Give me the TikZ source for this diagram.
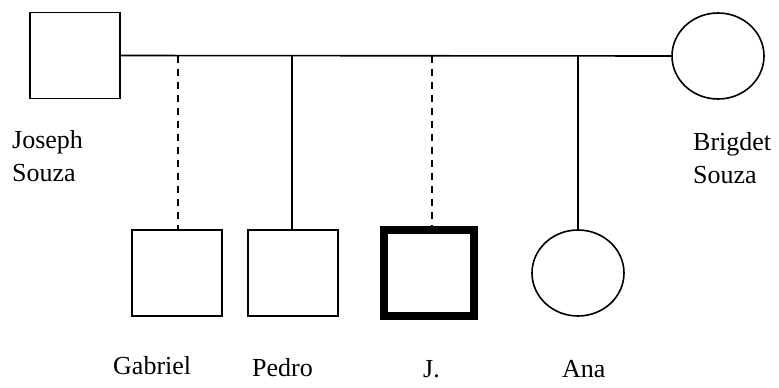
\documentclass[tikz,border=0pt]{standalone}
\usepackage{fontspec}
\setmainfont{Liberation Serif}
\usetikzlibrary{shapes.geometric}
\begin{document}
\begin{tikzpicture}[x=1pt,y=-1pt,
  male/.style={draw,line width=1.6pt,rectangle,minimum width=90pt,minimum height=86pt,inner sep=0pt},
  female/.style={draw,line width=1.6pt,ellipse,minimum width=92pt,minimum height=86pt,inner sep=0pt},
  proband/.style={male,line width=7.5pt},
  lbl/.style={anchor=base west,inner sep=0pt,align=left,font=\fontsize{26}{33}\selectfont},
  link/.style={line width=1.6pt},
  dlink/.style={line width=1.6pt,dash pattern=on 7pt off 6pt}]
\useasboundingbox (0,0) rectangle (779,388);
\node[male] (jos) at (75,55.5) {};
\node[female] (brig) at (718,56) {};
\node[male] (gab) at (177,273) {};
\node[male] (ped) at (293,273) {};
\node[proband] (jj) at (429,273) {};
\node[female] (ana) at (578,273) {};
\node[lbl] (ljos) at (12,181) {Joseph\\Souza};
\node[lbl] (lbrig) at (693,183) {Brigdet\\Souza};
\node[lbl] (lgab) at (113,374) {Gabriel};
\node[lbl] (lped) at (252,376) {Pedro};
\node[lbl] (ljj) at (423,377) {J.};
\node[lbl] (lana) at (562,377) {Ana};
\draw[link] (jos.east) -- (brig.west);
\draw[dlink] ([xshift=1pt]gab.north |- jos.east) -- ([xshift=1pt]gab.north);
\draw[link] ([xshift=-1pt]ped.north |- jos.east) -- ([xshift=-1pt]ped.north);
\draw[dlink] ([xshift=3pt]jj.north |- jos.east) -- ([xshift=3pt]jj.north);
\draw[link] (ana.north |- jos.east) -- (ana.north);
\end{tikzpicture}
\end{document}
